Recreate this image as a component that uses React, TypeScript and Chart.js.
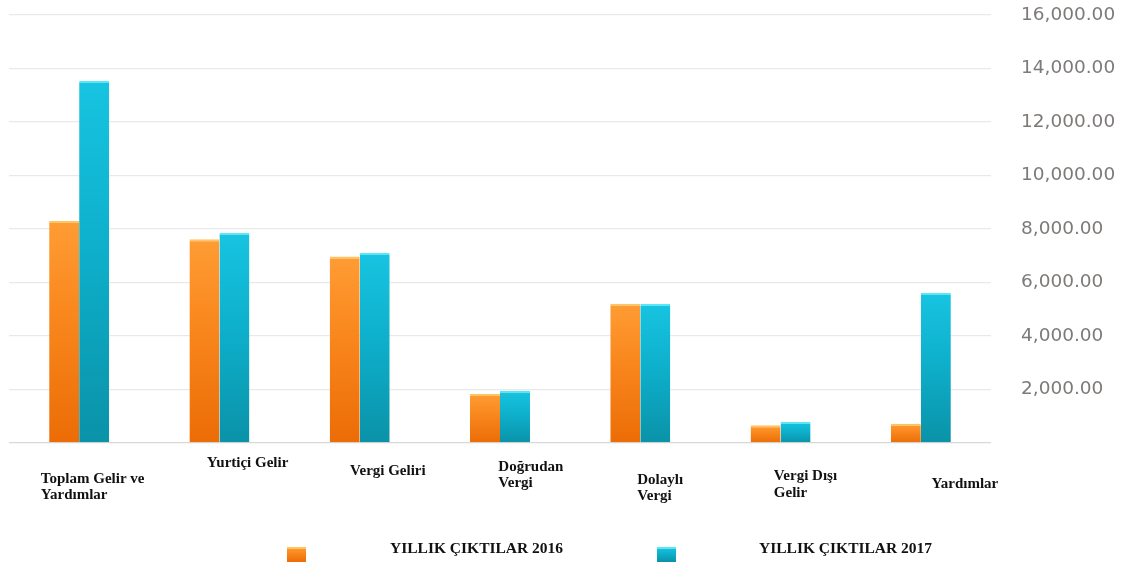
import React, { useEffect, useRef } from "react";
import { Chart, registerables } from "chart.js";

Chart.register(...registerables);

// ---- data ----
const CATEGORIES: string[][] = [
  ["Toplam Gelir ve", "Yardımlar"],
  ["Yurtiçi Gelir"],
  ["Vergi Geliri"],
  ["Doğrudan", "Vergi"],
  ["Dolaylı", "Vergi"],
  ["Vergi Dışı", "Gelir"],
  ["Yardımlar"],
];
const SERIES_LABELS = ["YILLIK ÇIKTILAR 2016", "YILLIK ÇIKTILAR 2017"];
const VALUES_2016 = [8300, 7620, 6970, 1830, 5210, 660, 720];
const VALUES_2017 = [13530, 7860, 7100, 1950, 5200, 785, 5610];
const Y_MIN = 0;
const Y_MAX = 16000;
const Y_STEP = 2000;

// ---- layout / style constants ----
const W = 1133;
const H = 563;
const LABEL_DX = [-38.3, -12.6, -9.7, -1.7, -3, -6.7, 10.7];
const LABEL_DY = [39.7, 24, 31.7, 27.7, 40.7, 37.4, 44.7];
const LABEL_LINE_H = 16.5;
const LEGEND_BOX_X = [287, 657];
const LEGEND_TEXT_X = [390, 759];
const LEGEND_BOX_Y = 547;
const LEGEND_TEXT_Y = 552.5;
const PALETTE = [
  { stops: ["#FF9C34", "#F8861C", "#EC6C06"], bevel: "#FFC462" },
  { stops: ["#17C4E1", "#0EB0CC", "#0A92A8"], bevel: "#5BE6F5" },
];

function barGradient(ctx: CanvasRenderingContext2D, top: number, bottom: number, stops: string[]) {
  const g = ctx.createLinearGradient(0, top, 0, bottom);
  g.addColorStop(0, stops[0]);
  g.addColorStop(0.45, stops[1]);
  g.addColorStop(1, stops[2]);
  return g;
}

const xLabelsPlugin = {
  id: "xLabels",
  afterDraw(chart: any) {
    const ctx = chart.ctx as CanvasRenderingContext2D;
    const xs = chart.scales.x;
    const bottom = chart.chartArea.bottom;
    ctx.save();
    ctx.font = 'bold 15px "Liberation Serif", "Times New Roman", serif';
    ctx.fillStyle = "#111111";
    ctx.textAlign = "left";
    ctx.textBaseline = "alphabetic";
    (chart.data.labels as string[][]).forEach((lines, i) => {
      const x = xs.getPixelForValue(i) + LABEL_DX[i];
      lines.forEach((line, j) => {
        ctx.fillText(line, x, bottom + LABEL_DY[i] + j * LABEL_LINE_H);
      });
    });
    ctx.restore();
  },
};

const legendPlugin = {
  id: "customLegend",
  afterDraw(chart: any) {
    const ctx = chart.ctx as CanvasRenderingContext2D;
    ctx.save();
    chart.data.datasets.forEach((ds: any, i: number) => {
      const bx = LEGEND_BOX_X[i];
      const p = PALETTE[i];
      ctx.fillStyle = barGradient(ctx, LEGEND_BOX_Y, LEGEND_BOX_Y + 15, p.stops);
      ctx.fillRect(bx, LEGEND_BOX_Y, 19, 15);
      ctx.fillStyle = p.bevel;
      ctx.fillRect(bx, LEGEND_BOX_Y, 19, 2);
      ctx.font = 'bold 15.5px "Liberation Serif", "Times New Roman", serif';
      ctx.fillStyle = "#111111";
      ctx.textAlign = "left";
      ctx.textBaseline = "alphabetic";
      ctx.fillText(ds.label, LEGEND_TEXT_X[i], LEGEND_TEXT_Y);
    });
    ctx.restore();
  },
};

function makeDataset(label: string, data: number[], idx: number) {
  const p = PALETTE[idx];
  return {
    label,
    data,
    backgroundColor: (c: any) => {
      const chart = c.chart;
      const ys = chart.scales && chart.scales.y;
      if (!ys || c.type !== "data" || !chart.chartArea) return p.stops[1];
      const top = ys.getPixelForValue(c.raw);
      const bot = ys.getPixelForValue(0);
      if (!isFinite(top) || !isFinite(bot) || top === bot) return p.stops[1];
      return barGradient(chart.ctx, top, bot, p.stops);
    },
    borderColor: p.bevel,
    borderWidth: { top: 2, left: 0, right: 0, bottom: 0 },
    borderSkipped: "start",
    barPercentage: 1,
    categoryPercentage: 0.4276,
  };
}

export default function App() {
  const ref = useRef<HTMLCanvasElement | null>(null);

  useEffect(() => {
    if (!ref.current) return;
    const chart = new Chart(ref.current, {
      type: "bar",
      data: {
        labels: CATEGORIES as any,
        datasets: [
          makeDataset(SERIES_LABELS[0], VALUES_2016, 0) as any,
          makeDataset(SERIES_LABELS[1], VALUES_2017, 1) as any,
        ],
      },
      options: {
        animation: false,
        responsive: false,
        devicePixelRatio: 1,
        layout: { padding: { left: 9, right: 0, top: 15, bottom: 120 } },
        plugins: {
          legend: { display: false },
          tooltip: { enabled: false },
          title: { display: false },
        },
        scales: {
          x: {
            display: false,
            offset: true,
          },
          y: {
            position: "right",
            min: Y_MIN,
            max: Y_MAX,
            border: { display: false },
            grid: {
              drawTicks: false,
              lineWidth: 1.3,
              color: (c: any) => (c.tick && c.tick.value === 0 ? "#d8d8d8" : "#e9e9e9"),
            },
            ticks: {
              stepSize: Y_STEP,
              padding: 30,
              color: "#7d7a78",
              font: { family: '"DejaVu Sans", sans-serif', size: 18.5 },
              callback: (v: any) =>
                Number(v) === 0
                  ? ""
                  : Number(v).toLocaleString("en-US", {
                      minimumFractionDigits: 2,
                      maximumFractionDigits: 2,
                    }),
            },
            afterFit: (scale: any) => {
              scale.width = W - 991;
              scale.paddingTop = 0;
              scale.paddingBottom = 0;
            },
          },
        },
      },
      plugins: [xLabelsPlugin, legendPlugin],
    });
    return () => chart.destroy();
  }, []);

  return (
    <div style={{ position: "fixed", left: 0, top: 0, width: W, height: H, background: "#ffffff" }}>
      <canvas ref={ref} width={W} height={H} style={{ display: "block", width: W, height: H }} />
    </div>
  );
}
